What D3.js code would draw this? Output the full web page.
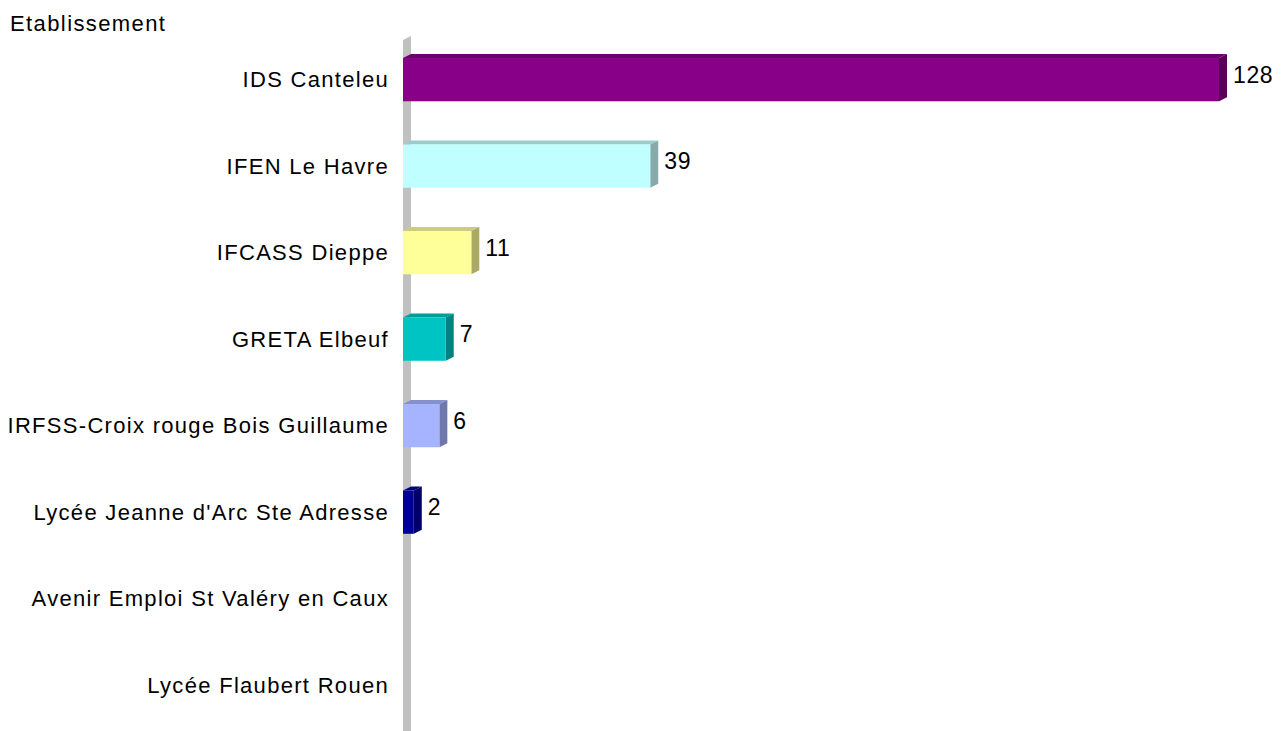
<!DOCTYPE html>
<html>
<head>
<meta charset="utf-8">
<script src="https://cdn.jsdelivr.net/npm/d3@7"></script>
<style>
html,body{margin:0;padding:0;background:#fff;}
svg{display:block;}
text{font-family:Arial,"Liberation Sans",sans-serif;fill:#000;}
</style>
</head>
<body>
<svg id="chart" width="1287" height="731"></svg>
<script>
const categories = [
  "IDS Canteleu",
  "IFEN Le Havre",
  "IFCASS Dieppe",
  "GRETA Elbeuf",
  "IRFSS-Croix rouge Bois Guillaume",
  "Lycée Jeanne d'Arc Ste Adresse",
  "Avenir Emploi St Valéry en Caux",
  "Lycée Flaubert Rouen"
];
const values = [128, 39, 11, 7, 6, 2, 0, 0];
const frontColors = ["#880088", "#c0ffff", "#ffff99", "#00c3c3", "#a6b4ff", "#000099", "#880088", "#880088"];
const topColors   = ["#6c006c", "#99cccc", "#cccc7a", "#009c9c", "#8590cc", "#00007a", "#6c006c", "#6c006c"];
const sideColors  = ["#5a005a", "#88aaaa", "#aaaa66", "#008282", "#6f78aa", "#000066", "#5a005a", "#5a005a"];
const axisTitle = "Etablissement";

const svg = d3.select("#chart");
const W = 1287, H = 731;
const dx = 8, dy = -4;   // 3D depth offset
const wallX = 403;

const x = d3.scaleLinear().domain([0, 128]).range([401, 1219]);
const y = d3.scaleBand().domain(categories).range([36.4, 728.4]).paddingInner(0.5).paddingOuter(0.25);

// wall (left)
const wallTop = 40;
svg.append("path")
  .attr("d", `M${wallX},${wallTop} L${wallX+dx},${wallTop+dy} L${wallX+dx},${H} L${wallX},${H} Z`)
  .attr("fill", "#c0c0c0");

// bars
const bars = svg.append("g");
categories.forEach((c, i) => {
  const v = values[i];
  if (v <= 0) return;
  const x0 = wallX, x1 = x(v);
  const y0 = y(c), y1 = y0 + y.bandwidth();
  const g = bars.append("g");
  g.append("path")
    .attr("d", `M${x0},${y0} L${x0+dx},${y0+dy} L${x1+dx},${y0+dy} L${x1},${y0} Z`)
    .attr("fill", topColors[i]);
  g.append("path")
    .attr("d", `M${x1},${y0} L${x1+dx},${y0+dy} L${x1+dx},${y1+dy} L${x1},${y1} Z`)
    .attr("fill", sideColors[i]);
  g.append("rect")
    .attr("x", x0).attr("y", y0)
    .attr("width", x1 - x0).attr("height", y1 - y0)
    .attr("fill", frontColors[i]);
  g.append("text")
    .attr("x", x1 + dx + 6)
    .attr("y", y0 + y.bandwidth() / 2 + 3)
    .attr("font-size", 23)
    .attr("letter-spacing", "0.6px")
    .text(v);
});

// category labels
svg.append("g").selectAll("text")
  .data(categories)
  .join("text")
  .attr("x", 389)
  .attr("y", d => y(d) + y.bandwidth() / 2 + 7.5)
  .attr("text-anchor", "end")
  .attr("font-size", 22)
  .attr("letter-spacing", "1.3px")
  .text(d => d);

// axis title
svg.append("text")
  .attr("x", 10).attr("y", 31)
  .attr("font-size", 22)
  .attr("letter-spacing", "1.4px")
  .text(axisTitle);
</script>
</body>
</html>
